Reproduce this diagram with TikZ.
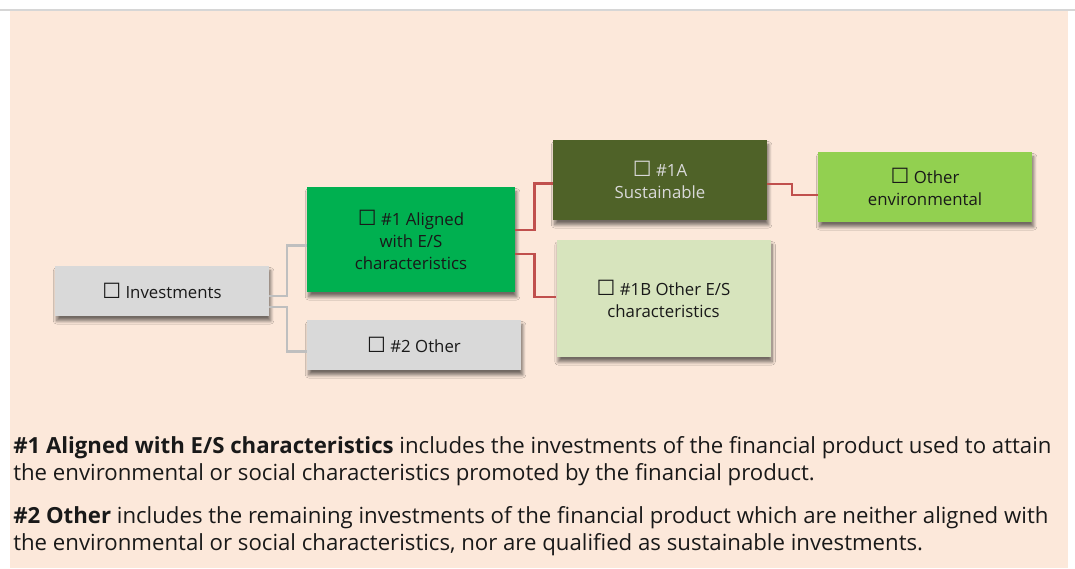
\documentclass[tikz,border=0pt]{standalone}
\usepackage{fontspec}
\setmainfont{Open Sans}
\newfontfamily\symfont[Scale=1.25]{DejaVu Sans}
\usetikzlibrary{shadows.blur}
\definecolor{peach}{RGB}{252,232,218}
\definecolor{boxgray}{RGB}{217,217,217}
\definecolor{topgray}{RGB}{214,214,214}
\definecolor{lngray}{RGB}{191,191,191}
\definecolor{lnred}{RGB}{192,80,77}
\definecolor{green1}{RGB}{0,176,80}
\definecolor{olive1}{RGB}{79,98,40}
\definecolor{pale1}{RGB}{215,228,189}
\definecolor{lime1}{RGB}{146,208,80}
\definecolor{txt}{RGB}{25,25,25}
\newcommand{\chkbox}{{\symfont ☐}}
\tikzset{
  box/.style={rectangle, inner sep=0pt, align=center, text=txt,
    font=\fontsize{12.6}{16.5}\selectfont,
    blur shadow={shadow xshift=1.2pt, shadow yshift=-3.6pt, shadow blur radius=2.4pt, shadow blur steps=10, shadow opacity=55}},
  gline/.style={draw=lngray, line width=1.6pt},
  rline/.style={draw=lnred, line width=1.6pt},
  para/.style={anchor=base west, inner sep=0pt, text=txt, font=\fontsize{16.65}{20}\selectfont}
}
\begin{document}
\begin{tikzpicture}[x=0.75pt,y=-0.75pt]
\useasboundingbox (0,0) rectangle (1075,568);
\fill[white] (0,0) rectangle (1075,568);
\fill[peach] (9.5,11) rectangle (1067.5,568);
\fill[topgray] (0,8.5) rectangle (1075,11);

\node[box, fill=boxgray, minimum width=160.5pt, minimum height=37.5pt] (inv) at (162,291) {\chkbox\ Investments};
\node[box, fill=green1, minimum width=156pt, minimum height=78.75pt] (a1) at (411,239.5) {\chkbox\ \#1 Aligned\\with E/S\\characteristics};
\node[box, fill=boxgray, minimum width=160.5pt, minimum height=37.5pt] (o2) at (414,345) {\chkbox\ \#2 Other};
\node[box, fill=olive1, text=boxgray, minimum width=160.5pt, minimum height=60pt] (s1a) at (660,180) {\chkbox\ \#1A\\Sustainable};
\node[box, fill=pale1, minimum width=160.5pt, minimum height=87.75pt] (s1b) at (663.5,298.5) {\chkbox\ \#1B Other E/S\\characteristics};
\node[box, fill=lime1, minimum width=160.5pt, minimum height=52.5pt] (env) at (925,187) {\chkbox\ Other\\environmental};

\draw[gline] (inv.east |- 0,296) -- ++(18,0) |- (a1.west |- 0,245.5);
\draw[gline] (inv.east |- 0,307) -- ++(18,0) |- (o2.west |- 0,351.5);
\draw[rline] (a1.east |- 0,230) -- (534.5,230) |- (s1a.west |- 0,183.5);
\draw[rline] (a1.east |- 0,254) -- (534.5,254) |- (s1b.west |- 0,297);
\draw[rline] (s1a.east |- 0,184) -- (792,184) |- (env.west |- 0,195);

\node[para] (p1a) at (13,453) {\textbf{\#1 Aligned with E/S characteristics} includes the investments of the financial product used to attain};
\node[para] (p1b) at (13,480) {the environmental or social characteristics promoted by the financial product.};
\node[para] (p2a) at (13,523) {\textbf{\#2 Other} includes the remaining investments of the financial product which are neither aligned with};
\node[para] (p2b) at (13,550) {the environmental or social characteristics, nor are qualified as sustainable investments.};
\end{tikzpicture}
\end{document}
